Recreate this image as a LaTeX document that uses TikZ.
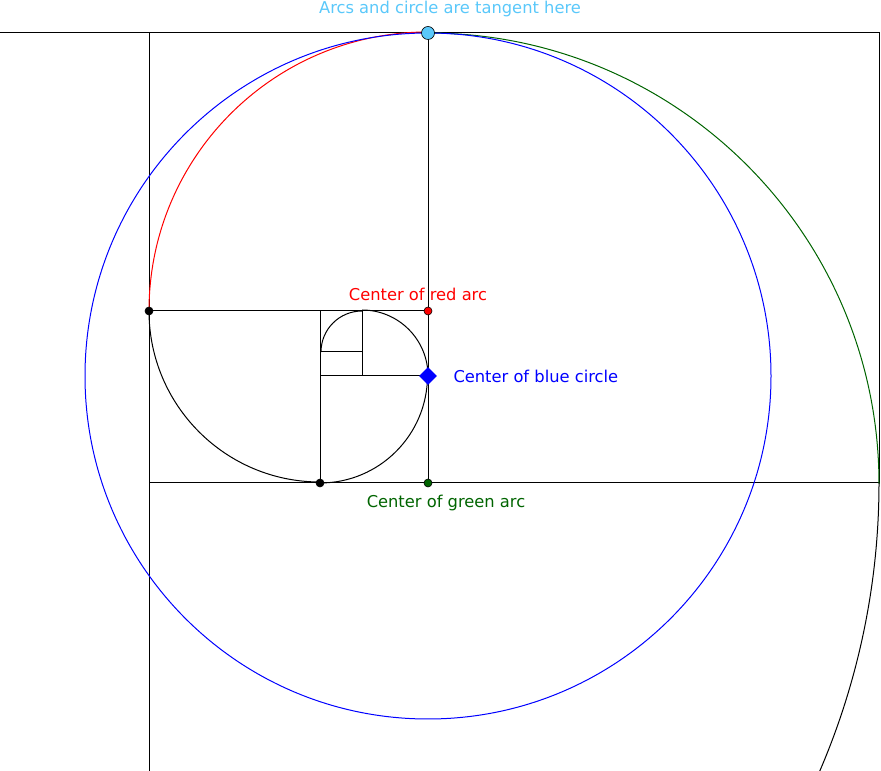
\documentclass[tikz,border=0pt]{standalone}
\usepackage{fontspec}
\setmainfont{DejaVu Sans}
\usetikzlibrary{shapes.geometric}
\definecolor{lblue}{RGB}{90,200,250}
\definecolor{dgreen}{RGB}{0,100,0}
\begin{document}
\begin{tikzpicture}[x=1pt,y=1pt,line width=1pt,
  dot/.style={circle,draw=black,line width=0.6pt,inner sep=0pt,minimum size=8pt},
  lbl/.style={font=\fontsize{16.3}{19}\selectfont,inner sep=0pt}]
\useasboundingbox (0,0) rectangle (881,771);
\begin{scope}
\clip (0,0) rectangle (881,771);
% grid lines
\draw (0,738) -- (879,738) -- (879,288);
\draw (149,738) -- (149,0);
\draw (428,738) -- (428,288);
\draw (149,460) -- (428,460);
\draw (149,288) -- (879,288);
\draw (320,460) -- (320,288);
\draw (320,395) -- (428,395);
\draw (362,460) -- (362,395);
\draw (320,419) -- (362,419);
% arcs
\draw[red] (149,460) arc[start angle=180,end angle=90,radius=279];
\draw[dgreen] (428,738) arc[start angle=90,end angle=0,radius=451];
\draw (879,288) arc[start angle=0,end angle=-60,radius=730];
\draw (149,460) arc[start angle=180,end angle=270,radius=171];
\draw (320,288) arc[start angle=270,end angle=360,radius=107.5];
\draw (428,395) arc[start angle=0,end angle=90,radius=66];
\draw (362,460) arc[start angle=90,end angle=180,radius=41];
\draw[blue] (428,395) circle[radius=343];
\end{scope}
% dots
\node[dot,fill=black] (p1) at (149,460) {};
\node[dot,fill=black] (p2) at (320,288) {};
\node[dot,fill=red] (cr) at (428,460) {};
\node[dot,fill=dgreen] (cg) at (428,288) {};
\node[diamond,fill=blue,inner sep=0pt,minimum size=18pt] (cb) at (428,395) {};
\node[dot,fill=lblue,minimum size=13pt] (tp) at (428,738) {};
% labels
\node[lbl,text=lblue] (lt) at (450,762) {Arcs and circle are tangent here};
\node[lbl,text=red] (lr) at (418,477) {Center of red arc};
\node[lbl,text=blue,anchor=west] (lb) at (453,395) {Center of blue circle};
\node[lbl,text=dgreen] (lg) at (446,268) {Center of green arc};
\end{tikzpicture}
\end{document}
